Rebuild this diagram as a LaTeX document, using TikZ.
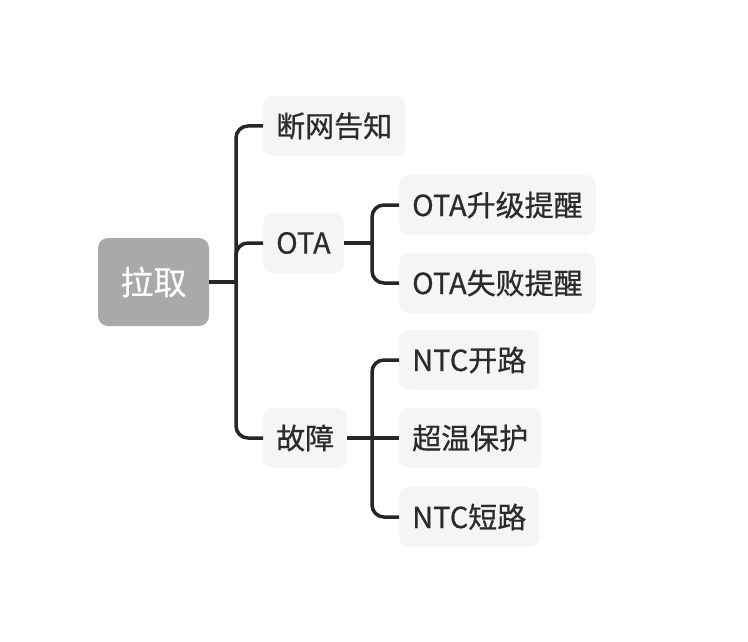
\documentclass[tikz,border=0pt]{standalone}
\usepackage{fontspec}
\setmainfont{Noto Sans CJK SC}[FakeBold=0.6]
\begin{document}
\begin{tikzpicture}[x=1pt,y=-1pt,
  leaf/.style={rectangle, rounded corners=10pt, fill=boxfill, text=txt, minimum height=60pt, inner xsep=13pt, font=\fontsize{29}{33}\selectfont, anchor=west},
  rootbox/.style={rectangle, rounded corners=10pt, fill=rootfill, text=white, minimum width=111pt, minimum height=88pt, font=\fontsize{33}{37}\selectfont},
  conn/.style={draw=linec, line width=3.5pt, rounded corners=12pt}]
\definecolor{boxfill}{HTML}{F5F5F5}
\definecolor{rootfill}{HTML}{A9A9A9}
\definecolor{txt}{HTML}{2B2B2B}
\definecolor{linec}{HTML}{262626}
\useasboundingbox[fill=white] (0,0) rectangle (748,642);
\node[rootbox] (root) at (153.5,282) {拉取};
\node[leaf] (duan) at (263,126) {断网告知};
\node[leaf] (ota) at (263,243) {OTA};
\node[leaf] (gz) at (263,438) {故障};
\node[leaf] (o1) at (399,205) {OTA升级提醒};
\node[leaf] (o2) at (399,283) {OTA失败提醒};
\node[leaf] (n1) at (399,360) {NTC开路};
\node[leaf] (cw) at (399,438) {超温保护};
\node[leaf] (n2) at (399,517) {NTC短路};
\coordinate (j1) at (236,282);
\coordinate (j2) at (372,243);
\coordinate (j3) at (372,438);
\draw[conn] (root.east) -- (j1);
\draw[conn] (duan.west) -| (j1) |- (gz.west);
\draw[conn] (ota.west) -| (j1);
\draw[conn] (ota.east) -- (j2);
\draw[conn] (o1.west) -| (j2) |- (o2.west);
\draw[conn] (gz.east) -- (cw.west);
\draw[conn] (n1.west) -| (j3) |- (n2.west);
\end{tikzpicture}
\end{document}
